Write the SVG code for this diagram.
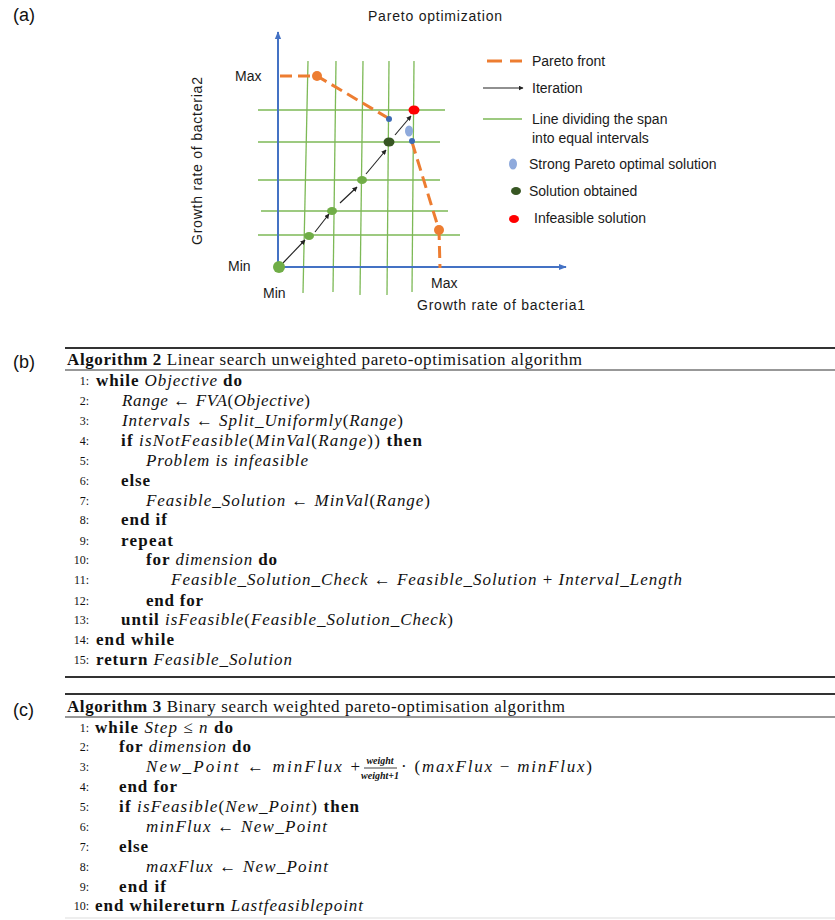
<svg xmlns="http://www.w3.org/2000/svg" width="835" height="920" viewBox="0 0 835 920">
<style>
.sans{font-family:"Liberation Sans",Arial,sans-serif;fill:#1a1a1a}
.lbl{font-family:"Liberation Sans",Arial,sans-serif;font-size:18px;fill:#111}
.ax{font-size:14px}
.grid{stroke:#7DB956;stroke-width:1.3;fill:none}
.axis{stroke:#4472C4;stroke-width:2;fill:none}
.front{stroke:#ED7D31;stroke-width:3;stroke-dasharray:12 6;fill:none}
.iter{stroke:#222;stroke-width:1.1;fill:none}
.alg{font-family:"Liberation Serif","Times New Roman",serif;font-size:17px;fill:#111}
.frac{font-family:"Liberation Serif","Times New Roman",serif;font-size:10px;font-style:italic;font-weight:bold;fill:#111;text-anchor:middle}
.num{font-family:"Liberation Serif","Times New Roman",serif;font-size:12px;fill:#111;text-anchor:end}
.b{font-weight:bold;font-style:normal}
.i{font-style:italic}
.rule{stroke:#333;fill:none}
</style>
<defs>
<marker id="ah" viewBox="0 0 10 10" refX="9" refY="5" markerWidth="5" markerHeight="5" orient="auto" markerUnits="userSpaceOnUse"><path d="M0,0 L10,5 L0,10 z" fill="#222"/></marker>
<marker id="axh" viewBox="0 0 10 10" refX="9" refY="5" markerWidth="8" markerHeight="8" orient="auto" markerUnits="userSpaceOnUse"><path d="M0,1 L10,5 L0,9 z" fill="#4472C4"/></marker>
</defs>

<!-- panel labels -->
<text class="lbl" x="13" y="21">(a)</text>
<text class="lbl" x="13" y="368">(b)</text>
<text class="lbl" x="13" y="716">(c)</text>

<!-- (a) Pareto plot -->
<g id="plot">
<text class="sans" x="368" y="21" font-size="14" textLength="134">Pareto optimization</text>
<g id="grid">
<line class="grid" x1="308" y1="61" x2="303" y2="293"/>
<line class="grid" x1="336" y1="61" x2="333" y2="292"/>
<line class="grid" x1="363" y1="61" x2="360" y2="295"/>
<line class="grid" x1="389" y1="61" x2="387" y2="295"/>
<line class="grid" x1="414" y1="61" x2="412" y2="292"/>
<line class="grid" x1="258" y1="110" x2="445" y2="110"/>
<line class="grid" x1="258" y1="142" x2="440" y2="142"/>
<line class="grid" x1="258" y1="180" x2="440" y2="180"/>
<line class="grid" x1="261" y1="211" x2="448" y2="211"/>
<line class="grid" x1="258" y1="235" x2="460" y2="235"/>
</g>
<g id="axes">
<line class="axis" x1="278" y1="268" x2="278" y2="32" marker-end="url(#axh)"/>
<line class="axis" x1="277" y1="267" x2="566" y2="267" marker-end="url(#axh)"/>
</g>
<g id="pareto-front">
<path class="front" d="M280,76 L317,76 L388,118"/>
<path class="front" d="M412,142 L439,230 L440,268"/>
</g>
<g id="iterations">
<line class="iter" x1="283" y1="263" x2="305" y2="240" marker-end="url(#ah)"/>
<line class="iter" x1="315" y1="232" x2="329" y2="214" marker-end="url(#ah)"/>
<line class="iter" x1="340" y1="203" x2="357" y2="187" marker-end="url(#ah)"/>
<line class="iter" x1="366" y1="174" x2="386" y2="150" marker-end="url(#ah)"/>
<line class="iter" x1="395" y1="135" x2="411" y2="116" marker-end="url(#ah)"/>
</g>
<g id="points">
<circle cx="279" cy="267" r="6" fill="#70AD47"/>
<ellipse cx="309" cy="236" rx="5" ry="4" fill="#70AD47"/>
<ellipse cx="332" cy="211" rx="5" ry="4" fill="#70AD47"/>
<ellipse cx="362" cy="180" rx="5" ry="4" fill="#70AD47"/>
<ellipse cx="389" cy="142" rx="5.5" ry="4.5" fill="#375623"/>
<ellipse cx="414" cy="110" rx="5.5" ry="4.5" fill="#FF0000"/>
<ellipse cx="409" cy="131" rx="4" ry="5.5" fill="#8FAADC"/>
<circle cx="389" cy="119" r="3" fill="#3D6BB5"/>
<circle cx="412" cy="141" r="3" fill="#3D6BB5"/>
<circle cx="317" cy="76" r="5" fill="#ED7D31"/>
<circle cx="439" cy="230" r="5" fill="#ED7D31"/>
</g>
<g id="axis-labels">
<text class="sans ax" x="235" y="81">Max</text>
<text class="sans ax" x="228" y="271">Min</text>
<text class="sans ax" x="263" y="298">Min</text>
<text class="sans ax" x="431" y="288">Max</text>
<text class="sans ax" x="417" y="310" textLength="168">Growth rate of bacteria1</text>
<text class="sans ax" transform="translate(202,161) rotate(-90)" text-anchor="middle" textLength="168">Growth rate of bacteria2</text>
</g>
<g id="legend">
<line x1="487" y1="61" x2="502" y2="61" stroke="#ED7D31" stroke-width="3"/>
<line x1="510" y1="61" x2="522" y2="61" stroke="#ED7D31" stroke-width="3"/>
<text class="sans ax" x="532" y="66">Pareto front</text>
<line class="iter" x1="483" y1="88" x2="523" y2="88" marker-end="url(#ah)"/>
<text class="sans ax" x="532" y="93">Iteration</text>
<line class="grid" x1="483" y1="119" x2="522" y2="119"/>
<text class="sans ax" x="532" y="124">Line dividing the span</text>
<text class="sans ax" x="532" y="143">into equal intervals</text>
<ellipse cx="513" cy="164" rx="4" ry="5.5" fill="#8FAADC"/>
<text class="sans ax" x="529" y="169">Strong Pareto optimal solution</text>
<ellipse cx="516" cy="191" rx="5" ry="4" fill="#375623"/>
<text class="sans ax" x="529" y="196">Solution obtained</text>
<ellipse cx="514" cy="219" rx="5" ry="4" fill="#FF0000"/>
<text class="sans ax" x="534" y="223">Infeasible solution</text>
</g>
</g>

<!-- (b) Algorithm 2 -->
<g id="algorithm2">
<line class="rule" x1="65" y1="348" x2="835" y2="348" stroke-width="1.8"/>
<text class="alg" x="67" y="365" textLength="515"><tspan class="b">Algorithm 2</tspan> Linear search unweighted pareto-optimisation algorithm</text>
<line class="rule" x1="65" y1="370" x2="835" y2="370" stroke-width="1.2"/>
<g class="nums">
<text class="num" x="89" y="385">1:</text>
<text class="num" x="89" y="405">2:</text>
<text class="num" x="89" y="425">3:</text>
<text class="num" x="89" y="445">4:</text>
<text class="num" x="89" y="465">5:</text>
<text class="num" x="89" y="485">6:</text>
<text class="num" x="89" y="505">7:</text>
<text class="num" x="89" y="524">8:</text>
<text class="num" x="89" y="545">9:</text>
<text class="num" x="89" y="564">10:</text>
<text class="num" x="89" y="584">11:</text>
<text class="num" x="89" y="605">12:</text>
<text class="num" x="89" y="624">13:</text>
<text class="num" x="89" y="644">14:</text>
<text class="num" x="89" y="664">15:</text>
</g>
<text class="alg" x="96" y="386" textLength="146"><tspan class="b">while</tspan> <tspan class="i">Objective</tspan> <tspan class="b">do</tspan></text>
<text class="alg" x="122" y="406" textLength="188"><tspan class="i">Range</tspan> ← <tspan class="i">FVA</tspan>(<tspan class="i">Objective</tspan>)</text>
<text class="alg" x="122" y="426" textLength="281"><tspan class="i">Intervals</tspan> ← <tspan class="i">Split_Uniformly</tspan>(<tspan class="i">Range</tspan>)</text>
<text class="alg" x="121" y="446" textLength="301"><tspan class="b">if</tspan> <tspan class="i">isNotFeasible</tspan>(<tspan class="i">MinVal</tspan>(<tspan class="i">Range</tspan>)) <tspan class="b">then</tspan></text>
<text class="alg i" x="146" y="466" textLength="162">Problem is infeasible</text>
<text class="alg b" x="121" y="486" textLength="29">else</text>
<text class="alg" x="146" y="506" textLength="284"><tspan class="i">Feasible_Solution</tspan> ← <tspan class="i">MinVal</tspan>(<tspan class="i">Range</tspan>)</text>
<text class="alg b" x="121" y="525" textLength="46">end if</text>
<text class="alg b" x="121" y="546" textLength="52">repeat</text>
<text class="alg" x="146" y="565" textLength="131"><tspan class="b">for</tspan> <tspan class="i">dimension</tspan> <tspan class="b">do</tspan></text>
<text class="alg" x="171" y="585" textLength="511"><tspan class="i">Feasible_Solution_Check</tspan> ← <tspan class="i">Feasible_Solution</tspan> + <tspan class="i">Interval_Length</tspan></text>
<text class="alg b" x="146" y="606" textLength="57">end for</text>
<text class="alg" x="121" y="625" textLength="332"><tspan class="b">until</tspan> <tspan class="i">isFeasible</tspan>(<tspan class="i">Feasible_Solution_Check</tspan>)</text>
<text class="alg b" x="96" y="645" textLength="78">end while</text>
<text class="alg" x="96" y="665" textLength="196"><tspan class="b">return</tspan> <tspan class="i">Feasible_Solution</tspan></text>
<line class="rule" x1="65" y1="677" x2="835" y2="677" stroke-width="2" stroke="#555"/>
</g>

<!-- (c) Algorithm 3 -->
<g id="algorithm3">
<line class="rule" x1="65" y1="694" x2="835" y2="694" stroke-width="1.8"/>
<text class="alg" x="67" y="712" textLength="498"><tspan class="b">Algorithm 3</tspan> Binary search weighted pareto-optimisation algorithm</text>
<line class="rule" x1="65" y1="717" x2="835" y2="717" stroke-width="1.2"/>
<g class="nums">
<text class="num" x="89" y="732">1:</text>
<text class="num" x="89" y="751">2:</text>
<text class="num" x="89" y="771">3:</text>
<text class="num" x="89" y="791">4:</text>
<text class="num" x="89" y="811">5:</text>
<text class="num" x="89" y="831">6:</text>
<text class="num" x="89" y="851">7:</text>
<text class="num" x="89" y="871">8:</text>
<text class="num" x="89" y="891">9:</text>
<text class="num" x="89" y="910">10:</text>
</g>
<text class="alg" x="95" y="733" textLength="138"><tspan class="b">while</tspan> <tspan class="i">Step</tspan> ≤ <tspan class="i">n</tspan> <tspan class="b">do</tspan></text>
<text class="alg" x="119" y="752" textLength="132"><tspan class="b">for</tspan> <tspan class="i">dimension</tspan> <tspan class="b">do</tspan></text>
<text class="alg" x="146" y="772" textLength="214"><tspan class="i">New_Point</tspan> ← <tspan class="i">minFlux</tspan> +</text>
<text class="frac" x="380" y="764">weight</text>
<line x1="364" y1="768" x2="397" y2="768" stroke="#111" stroke-width="0.8"/>
<text class="frac" x="380" y="779">weight+1</text>
<text class="alg" x="401" y="772" textLength="191">· (<tspan class="i">maxFlux</tspan> − <tspan class="i">minFlux</tspan>)</text>
<text class="alg b" x="119" y="792" textLength="58">end for</text>
<text class="alg" x="119" y="812" textLength="240"><tspan class="b">if</tspan> <tspan class="i">isFeasible</tspan>(<tspan class="i">New_Point</tspan>) <tspan class="b">then</tspan></text>
<text class="alg" x="146" y="832" textLength="181"><tspan class="i">minFlux</tspan> ← <tspan class="i">New_Point</tspan></text>
<text class="alg b" x="119" y="852" textLength="29">else</text>
<text class="alg" x="146" y="872" textLength="182"><tspan class="i">maxFlux</tspan> ← <tspan class="i">New_Point</tspan></text>
<text class="alg b" x="119" y="892" textLength="47">end if</text>
<text class="alg" x="95" y="911" textLength="268"><tspan class="b">end whilereturn</tspan> <tspan class="i">Lastfeasiblepoint</tspan></text>
<line x1="65" y1="918" x2="835" y2="918" stroke="#ddd" stroke-width="1"/>
</g>
</svg>
